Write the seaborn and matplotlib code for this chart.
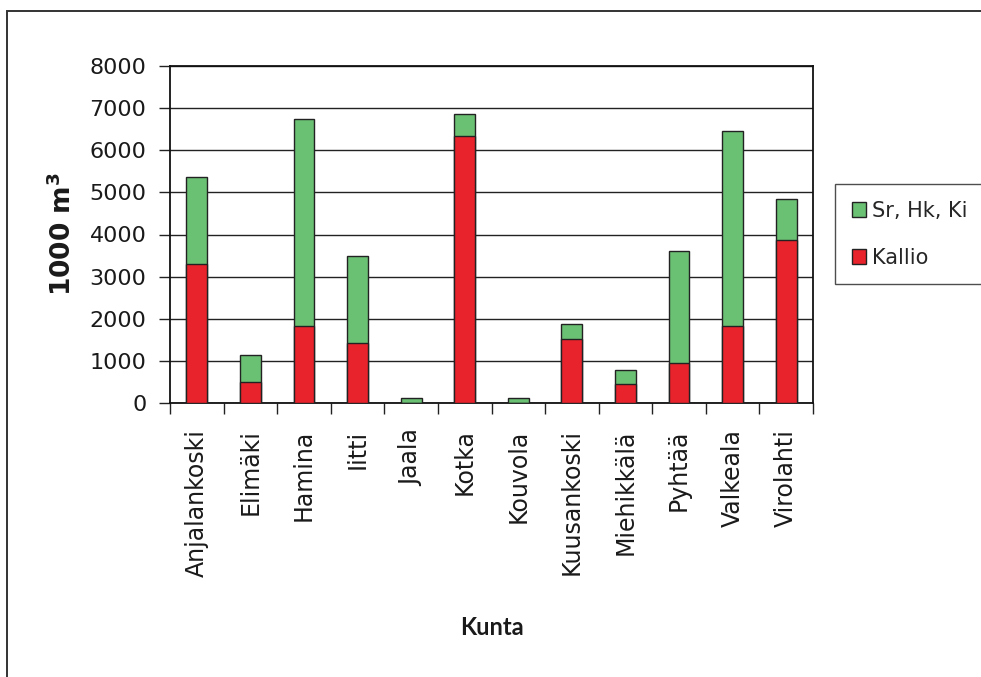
import matplotlib
matplotlib.use("Agg")
import matplotlib.pyplot as plt
from matplotlib.patches import Patch
from matplotlib.lines import Line2D
import seaborn as sns
import pandas as pd

# Data (1000 m3)
kunnat = ["Anjalankoski", "Elimäki", "Hamina", "Iitti", "Jaala", "Kotka",
          "Kouvola", "Kuusankoski", "Miehikkälä", "Pyhtää", "Valkeala", "Virolahti"]
kallio = [3300, 510, 1820, 1430, 0, 6340, 0, 1530, 460, 960, 1830, 3880]
sr_hk_ki = [2070, 630, 4930, 2050, 110, 510, 110, 350, 330, 2640, 4630, 970]

green = "#6bc173"
red = "#e8232b"

df = pd.DataFrame({"Kunta": kunnat, "Kallio": kallio, "Sr": sr_hk_ki})
df["Yht"] = df["Kallio"] + df["Sr"]

sns.set_style("white")
plt.rcParams["font.family"] = ["DejaVu Sans"]

fig = plt.figure(figsize=(9.81, 6.77), dpi=100)
ax = fig.add_axes([170 / 981, 1 - 403 / 677, (813 - 170) / 981, (403 - 66) / 677])

# stacked bars: total (green) behind, rock (red) in front
sns.barplot(data=df, x="Kunta", y="Yht", color=green, width=0.39,
            edgecolor="#222222", linewidth=1, saturation=1, ax=ax, zorder=3)
sns.barplot(data=df, x="Kunta", y="Kallio", color=red, width=0.39,
            edgecolor="#222222", linewidth=1, saturation=1, ax=ax, zorder=4)

ax.set_ylim(0, 8000)
ax.set_xlim(-0.5, len(kunnat) - 0.5)
ax.set_yticks(range(0, 8001, 1000))
ax.yaxis.grid(True, color="#222222", linewidth=1)
ax.set_axisbelow(True)
for s in ax.spines.values():
    s.set_visible(True)
    s.set_color("#111111")
    s.set_linewidth(1.3)

ax.tick_params(axis="y", direction="out", length=8, width=1, color="#222222",
               labelsize=16, pad=9, left=True, labelcolor="#1a1a1a")
ax.tick_params(axis="x", which="major", length=0, labelsize=17, pad=19,
               labelrotation=90, labelcolor="#1a1a1a")
ax.set_xticks([i - 0.5 for i in range(len(kunnat) + 1)], minor=True)
ax.tick_params(axis="x", which="minor", direction="out", length=8, width=1,
               color="#222222", bottom=True)
for lab in ax.get_xticklabels():
    lab.set_va("top")

ax.set_xlabel("Kunta", fontsize=17, fontweight="bold", family=["Lato"],
              labelpad=28, color="#1a1a1a")
ax.set_ylabel("1000 m$^\\mathbf{3}$", fontsize=19, fontweight="bold",
              labelpad=9, color="#1a1a1a")

handles = [Patch(facecolor=green, edgecolor="#222222", label="Sr, Hk, Ki"),
           Patch(facecolor=red, edgecolor="#222222", label="Kallio")]
leg = fig.legend(handles=handles, loc="upper left",
                 bbox_to_anchor=(835 / 981, 1 - 184 / 677), fontsize=15,
                 frameon=True, fancybox=False, edgecolor="#222222",
                 handlelength=0.7, handleheight=0.7, handletextpad=0.3,
                 labelspacing=1.3, borderpad=0.8, borderaxespad=0)
leg.get_frame().set_linewidth(1)

# outer frame around the chart area (only left and top edges are visible)
fig.add_artist(Line2D([7 / 981, 7 / 981, 1.0], [0.0, 1 - 11 / 677, 1 - 11 / 677],
                      transform=fig.transFigure, color="#333333", linewidth=1.4,
                      solid_joinstyle="miter"))

fig.savefig("out.png", dpi=100)
